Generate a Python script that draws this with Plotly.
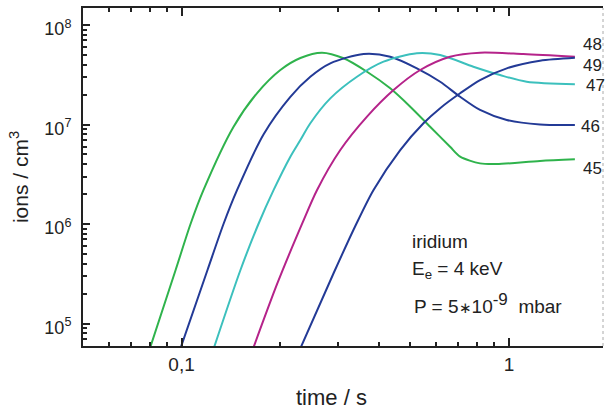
import numpy as np
import plotly.graph_objects as go

# ---- data (time in s, density in ions/cm^3) ----
labels = ["45", "46", "47", "48", "49"]
colors = ["#2fb34c", "#233a96", "#3cc0bd", "#b5238a", "#233a96"]

t45 = [0.0791, 0.0959, 0.1065, 0.1167, 0.1440, 0.1701, 0.2003, 0.2306, 0.2685, 0.3126, 0.3684,
       0.4337, 0.4993, 0.5742, 0.6607, 0.7090, 0.8157, 0.9173, 1.243, 1.589]
n45 = [5.0e4, 3.45e5, 1.0e6, 2.20e6, 9.44e6, 2.07e7, 3.53e7, 4.66e7, 5.27e7, 4.63e7, 3.39e7,
       2.31e7, 1.51e7, 9.5e6, 5.98e6, 4.75e6, 4.07e6, 4.01e6, 4.30e6, 4.47e6]

t46 = [0.0980, 0.1200, 0.1343, 0.1478, 0.1781, 0.2149, 0.2473, 0.2846, 0.3596, 0.4337, 0.5232,
       0.6162, 0.7090, 0.8157, 0.984, 1.243, 1.589]
n46 = [5.0e4, 3.45e5, 1.0e6, 2.20e6, 8.0e6, 1.90e7, 3.02e7, 4.12e7, 5.11e7, 4.80e7, 3.67e7,
       2.69e7, 1.90e7, 1.40e7, 1.11e7, 1.00e7, 9.89e6]

t47 = [0.1239, 0.1513, 0.1717, 0.1911, 0.2149, 0.2306, 0.2473, 0.2846, 0.3433, 0.4138, 0.5232,
       0.6162, 0.7782, 0.9389, 1.132, 1.589]
n47 = [5.0e4, 3.45e5, 1.0e6, 2.20e6, 4.75e6, 6.99e6, 1.03e7, 1.83e7, 3.02e7, 4.28e7, 5.20e7,
       4.99e7, 3.81e7, 3.14e7, 2.69e7, 2.54e7]

t48 = [0.1633, 0.1962, 0.2338, 0.2593, 0.3053, 0.3684, 0.4440, 0.5355, 0.6607, 0.8157,
       1.106, 1.589]
n48 = [5.0e4, 2.54e5, 1.02e6, 2.20e6, 5.54e6, 1.20e7, 2.22e7, 3.53e7, 4.80e7, 5.27e7,
       5.11e7, 4.80e7]

t49 = [0.2269, 0.2912, 0.3416, 0.3857, 0.4653, 0.5479, 0.6162, 0.7090, 0.8157, 0.984, 1.243, 1.589]
n49 = [5.0e4, 3.20e5, 1.0e6, 2.20e6, 5.54e6, 1.03e7, 1.46e7, 2.06e7, 2.80e7, 3.67e7, 4.38e7, 4.69e7]

series_t = [t45, t46, t47, t48, t49]
series_n = [n45, n46, n47, n48, n49]

# curve-label positions (data units)
label_t = [1.66, 1.64, 1.69, 1.66, 1.66]
label_n = [3.63e6, 9.66e6, 2.44e7, 6.40e7, 3.96e7]

x_major = [0.1, 1]
x_major_text = ["0,1", "1"]
y_major = [1e5, 1e6, 1e7, 1e8]
y_major_text = ["10<sup>5</sup>", "10<sup>6</sup>", "10<sup>7</sup>", "10<sup>8</sup>"]

FONT = "Liberation Sans, Arial, sans-serif"

fig = go.Figure()
for t, n, c in zip(series_t, series_n, colors):
    fig.add_trace(go.Scatter(x=t, y=n, mode="lines",
                             line=dict(color=c, width=2, shape="spline", smoothing=0.8),
                             showlegend=False, hoverinfo="skip"))

for lab, lt, ln in zip(labels, label_t, label_n):
    fig.add_annotation(x=np.log10(lt), y=np.log10(ln), xref="x", yref="y", text=lab,
                       showarrow=False, xanchor="left", yanchor="middle",
                       font=dict(family=FONT, size=17, color="#222"))

x_minor = [m * 10.0 ** e for e in (-2, -1, 0) for m in range(2, 10)]
y_minor = [m * 10.0 ** e for e in (4, 5, 6, 7, 8) for m in range(2, 10)]

fig.update_xaxes(type="log", range=[np.log10(0.05), 0.287], automargin=False,
                 tickmode="array", tickvals=x_major, ticktext=x_major_text,
                 ticks="inside", ticklen=8, tickwidth=1.5, tickcolor="#222",
                 showline=True, linecolor="#222", linewidth=2, mirror="ticks",
                 showgrid=False, zeroline=False, ticklabelstandoff=0,
                 tickfont=dict(family=FONT, size=19, color="#222"),
                 minor=dict(tickmode="array", tickvals=x_minor, ticks="inside",
                            ticklen=4, tickwidth=1.5, tickcolor="#222", showgrid=False))

fig.update_yaxes(type="log", range=[4.774, 8.171], automargin=False,
                 tickmode="array", tickvals=y_major, ticktext=y_major_text,
                 ticks="inside", ticklen=7, tickwidth=1.5, tickcolor="#222",
                 showline=True, linecolor="#222", linewidth=2, mirror=False,
                 showgrid=False, zeroline=False, ticklabelstandoff=6, ticklabelshift=4,
                 tickfont=dict(family=FONT, size=18, color="#222"),
                 minor=dict(tickmode="array", tickvals=y_minor, ticks="inside",
                            ticklen=4, tickwidth=1.5, tickcolor="#222", showgrid=False),
                 title=dict(text="ions / cm<sup>3</sup>",
                            font=dict(family=FONT, size=21, color="#222"), standoff=10))

fig.update_layout(
    yaxis2=dict(type="log", range=[4.774, 8.171], overlaying="y", side="right",
                tickmode="array", tickvals=y_major, showticklabels=False, automargin=False,
                ticks="inside", ticklen=5, tickwidth=1, tickcolor="#777",
                showline=False, showgrid=False, zeroline=False),
)
fig.add_shape(type="line", xref="paper", yref="paper", x0=1, x1=1, y0=0, y1=1,
              line=dict(color="#aaa", width=1, dash="dot"))

# x-axis title (placed slightly left of centre, as in the original)
fig.add_annotation(xref="paper", yref="paper", x=0.477, y=-0.151, text="time / s",
                   showarrow=False, xanchor="center", yanchor="middle",
                   font=dict(family=FONT, size=22, color="#222"))

text_font = dict(family=FONT, size=19, color="#222")
fig.add_annotation(xref="paper", yref="paper", x=0.628, y=0.309, text="iridium",
                   showarrow=False, xanchor="left", yanchor="middle", font=text_font)
fig.add_annotation(xref="paper", yref="paper", x=0.628, y=0.225, text="E<sub>e</sub> = 4 keV",
                   showarrow=False, xanchor="left", yanchor="middle", font=text_font)
fig.add_annotation(xref="paper", yref="paper", x=0.632, y=0.125,
                   text="P = 5<span style='font-size:15px'>\u2217</span>10"
                        "<sup><span style='font-size:17px'>-9</span></sup>\u00a0 mbar",
                   showarrow=False, xanchor="left", yanchor="middle", font=text_font)

fig.update_layout(width=605, height=410,
                  margin=dict(l=83, r=2, t=8, b=64),
                  paper_bgcolor="white", plot_bgcolor="white",
                  font=dict(family=FONT, color="#222"))

fig.write_html("out.html", config={"displayModeBar": False},
               post_script="document.body.style.margin='0px';")
